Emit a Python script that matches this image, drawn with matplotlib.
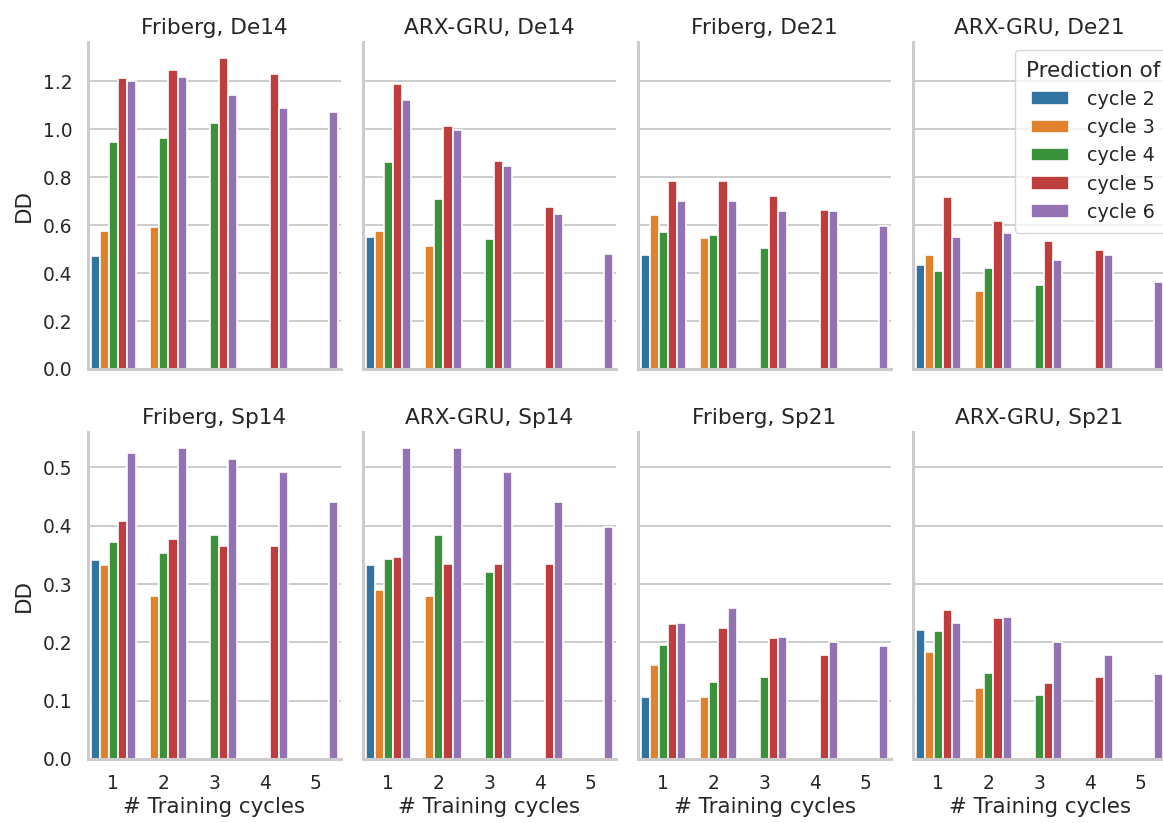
import matplotlib
matplotlib.use("Agg")
import matplotlib.pyplot as plt
from matplotlib.patches import Patch
import seaborn as sns

# ---------------- data ----------------
training_cycles = [1, 2, 3, 4, 5]
prediction_labels = ["cycle 2", "cycle 3", "cycle 4", "cycle 5", "cycle 6"]
models = ["Friberg", "ARX-GRU", "Friberg", "ARX-GRU"]
top_datasets = ["De14", "De14", "De21", "De21"]
bottom_datasets = ["Sp14", "Sp14", "Sp21", "Sp21"]

# each row: model trained on n cycles -> DD for predicting cycles n+1 .. 6
friberg_de14 = [
    [0.470, 0.576, 0.948, 1.213, 1.200],
    [0.592, 0.962, 1.247, 1.217],
    [1.027, 1.299, 1.141],
    [1.231, 1.088],
    [1.070],
]
arxgru_de14 = [
    [0.552, 0.574, 0.864, 1.190, 1.123],
    [0.513, 0.707, 1.013, 0.998],
    [0.544, 0.868, 0.847],
    [0.676, 0.645],
    [0.478],
]
friberg_de21 = [
    [0.474, 0.641, 0.571, 0.786, 0.702],
    [0.545, 0.557, 0.786, 0.702],
    [0.505, 0.721, 0.658],
    [0.663, 0.658],
    [0.597],
]
arxgru_de21 = [
    [0.435, 0.474, 0.408, 0.719, 0.549],
    [0.325, 0.421, 0.619, 0.567],
    [0.351, 0.535, 0.456],
    [0.496, 0.474],
    [0.364],
]
friberg_sp14 = [
    [0.342, 0.332, 0.373, 0.409, 0.525],
    [0.279, 0.353, 0.377, 0.534],
    [0.384, 0.366, 0.514],
    [0.366, 0.493],
    [0.440],
]
arxgru_sp14 = [
    [0.332, 0.290, 0.343, 0.346, 0.534],
    [0.279, 0.384, 0.335, 0.534],
    [0.321, 0.335, 0.493],
    [0.335, 0.440],
    [0.398],
]
friberg_sp21 = [
    [0.107, 0.161, 0.195, 0.232, 0.234],
    [0.107, 0.132, 0.225, 0.259],
    [0.140, 0.208, 0.210],
    [0.178, 0.201],
    [0.194],
]
arxgru_sp21 = [
    [0.222, 0.184, 0.219, 0.255, 0.234],
    [0.121, 0.148, 0.241, 0.243],
    [0.109, 0.130, 0.201],
    [0.140, 0.178],
    [0.145],
]

top_ticks = [0.0, 0.2, 0.4, 0.6, 0.8, 1.0, 1.2]
bottom_ticks = [0.0, 0.1, 0.2, 0.3, 0.4, 0.5]

# ---------------- style ----------------
sns.set_theme(style="whitegrid")
plt.rcParams['font.family'] = ['DejaVu Sans']
text_color = "0.15"
colors = sns.color_palette("tab10", 5, desat=0.75)

fig, axes = plt.subplots(2, 4, figsize=(11.63, 8.23), dpi=100,
                         sharex=True, sharey='row')
fig.subplots_adjust(left=88 / 1163, right=1166 / 1163,
                    top=1 - 42 / 823, bottom=1 - 759 / 823,
                    wspace=0.087, hspace=0.193)

panels = [
    (axes[0, 0], friberg_de14, models[0], top_datasets[0]),
    (axes[0, 1], arxgru_de14, models[1], top_datasets[1]),
    (axes[0, 2], friberg_de21, models[2], top_datasets[2]),
    (axes[0, 3], arxgru_de21, models[3], top_datasets[3]),
    (axes[1, 0], friberg_sp14, models[0], bottom_datasets[0]),
    (axes[1, 1], arxgru_sp14, models[1], bottom_datasets[1]),
    (axes[1, 2], friberg_sp21, models[2], bottom_datasets[2]),
    (axes[1, 3], arxgru_sp21, models[3], bottom_datasets[3]),
]

n_hue = len(prediction_labels)
bar_w = 0.9 / n_hue

for ax, data, model, dataset in panels:
    for i, row in enumerate(data):
        for k, val in enumerate(row):
            j = i + k  # hue index (prediction cycle)
            x = i + (j - (n_hue - 1) / 2) * bar_w
            ax.bar(x, val, width=bar_w, color=colors[j],
                   edgecolor="white", linewidth=1.2, zorder=2)
    ax.set_title(f"{model}, {dataset}", fontsize=15.6, color=text_color, pad=6)
    ax.set_xlim(-0.5, len(training_cycles) - 0.5)
    ax.grid(axis='x', visible=False)
    ax.grid(axis='y', color="0.8", linewidth=1.4)
    ax.set_axisbelow(True)
    for s in ["top", "right"]:
        ax.spines[s].set_visible(False)
    for s in ["left", "bottom"]:
        ax.spines[s].set_color("0.8")
        ax.spines[s].set_linewidth(2.2)
    ax.tick_params(axis='both', length=0, pad=11, labelsize=13.4,
                   labelcolor=text_color)

axes[0, 0].set_yticks(top_ticks)
axes[0, 0].set_yticklabels([f"{t:.1f}" for t in top_ticks])
axes[1, 0].set_yticks(bottom_ticks)
axes[1, 0].set_yticklabels([f"{t:.1f}" for t in bottom_ticks])
for ax in axes[1]:
    ax.set_xticks(range(len(training_cycles)))
    ax.set_xticklabels([str(t) for t in training_cycles])
    ax.set_xlabel("# Training cycles", fontsize=15.4, color=text_color, labelpad=3)
for ax in axes[:, 0]:
    ax.set_ylabel("DD", fontsize=15.4, color=text_color, labelpad=7)

handles = [Patch(facecolor=c, edgecolor="white", linewidth=1.2) for c in colors]
leg = fig.legend(handles, prediction_labels, title="Prediction of",
                 loc="upper left", bbox_to_anchor=(1015 / 1163, 1 - 50 / 823),
                 borderaxespad=0, fontsize=13.9, title_fontsize=15.5,
                 labelspacing=0.48, handletextpad=0.9, handlelength=2.0,
                 borderpad=0.55, frameon=True)
leg.get_frame().set_edgecolor("0.8")
leg.get_frame().set_facecolor("white")
leg.get_title().set_color(text_color)
for t in leg.get_texts():
    t.set_color(text_color)

fig.savefig("out.png", dpi=100)
